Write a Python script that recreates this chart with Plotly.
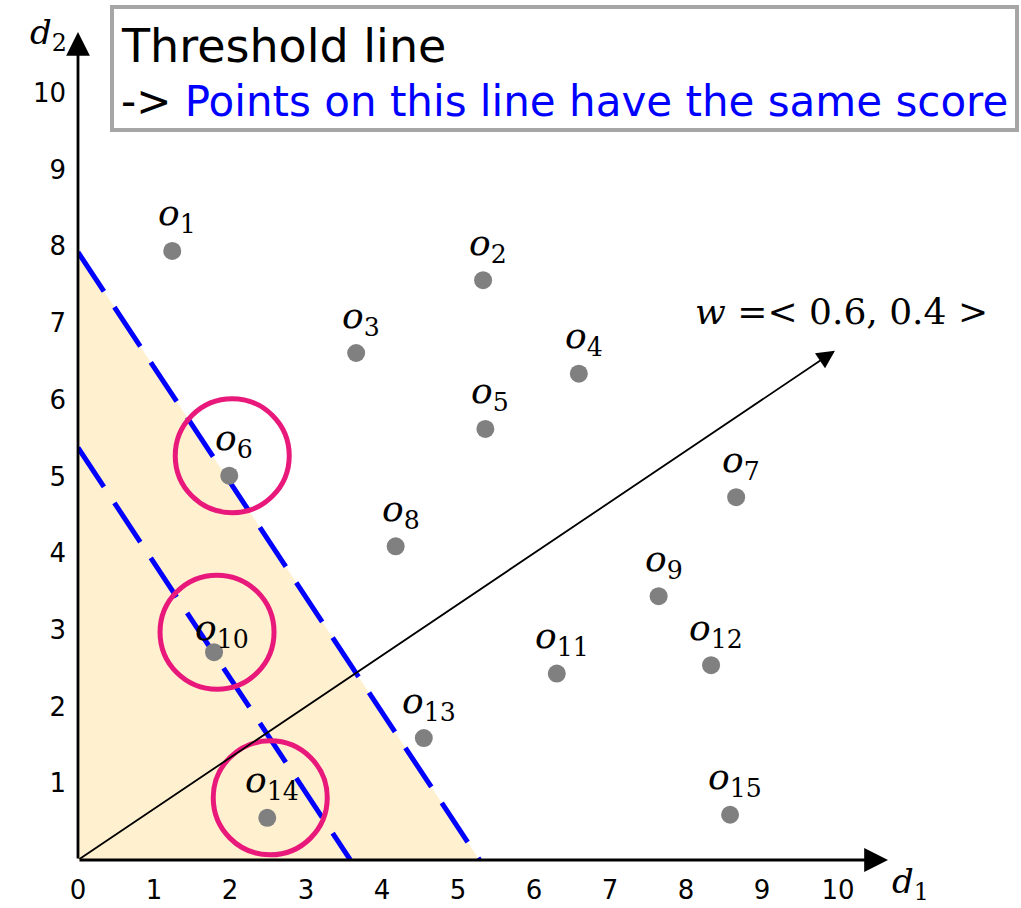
import plotly.graph_objects as go

# ---- data -------------------------------------------------------------
point_names = ["o1", "o2", "o3", "o4", "o5", "o6", "o7", "o8",
               "o9", "o10", "o11", "o12", "o13", "o14", "o15"]
d1_vals = [1.24, 5.33, 3.66, 6.59, 5.36, 1.99, 8.66, 4.18,
           7.64, 1.79, 6.30, 8.33, 4.55, 2.49, 8.58]
d2_vals = [7.94, 7.56, 6.61, 6.34, 5.62, 5.01, 4.73, 4.09,
           3.44, 2.71, 2.43, 2.54, 1.59, 0.55, 0.59]
weights = [0.6, 0.4]
threshold_scores = [3.17, 2.15]
highlighted = ["o6", "o10", "o14"]
x_ticks = list(range(0, 11))
y_ticks = list(range(1, 11))

# ---- geometry of the canvas ------------------------------------------
W, H = 1021, 908
ML, MR, MT, MB = 78, 133, 32, 48
X_MAX, Y_MAX = 10.658, 10.795
PW, PH = W - ML - MR, H - MT - MB


def px(xp):
    return (xp - ML) / PW


def py(yp):
    return (H - MB - yp) / PH


SERIF = "DejaVu Serif"
SANS = "DejaVu Sans"

fig = go.Figure()

# region below the outer threshold line
c_out = max(threshold_scores)
fig.add_trace(go.Scatter(
    x=[0, 0, c_out / weights[0], 0], y=[0, c_out / weights[1], 0, 0],
    mode="lines", fill="toself", fillcolor="#FFF0D0",
    line=dict(width=0), hoverinfo="skip", showlegend=False))

# threshold lines: points with equal weighted score
for c in threshold_scores:
    fig.add_trace(go.Scatter(
        x=[0, c / weights[0]], y=[c / weights[1], 0], mode="lines",
        line=dict(color="#0000FF", width=5, dash="47px,19px"),
        hoverinfo="skip", showlegend=False, cliponaxis=False))

# data points
fig.add_trace(go.Scatter(
    x=d1_vals, y=d2_vals, mode="markers",
    marker=dict(size=18, color="#808080"),
    hoverinfo="skip", showlegend=False, cliponaxis=False))

annotations = []
shapes = []

# point labels
label_shift = {"o10": (8, 22)}
for name, xv, yv in zip(point_names, d1_vals, d2_vals):
    sx, sy = label_shift.get(name, (5, 35))
    annotations.append(dict(
        x=xv, y=yv, xref="x", yref="y", showarrow=False,
        xanchor="center", yanchor="middle",
        text=f"<i>o</i><sub>{name[1:]}</sub>", xshift=sx, yshift=sy,
        font=dict(family=SERIF, size=36, color="black")))

# circles around the selected points
for name in highlighted:
    i = point_names.index(name)
    shapes.append(dict(
        type="circle", xref="x", yref="y",
        xsizemode="pixel", ysizemode="pixel",
        xanchor=d1_vals[i], yanchor=d2_vals[i],
        x0=-57 + 3, x1=57 + 3, y0=-57 + 20, y1=57 + 20,
        line=dict(color="#E8197B", width=5)))

# weight vector arrow
k = 16.6
annotations.append(dict(
    x=k * weights[0], y=k * weights[1], ax=0, ay=0,
    xref="x", yref="y", axref="x", ayref="y", text="",
    showarrow=True, arrowhead=2, arrowsize=2.0, arrowwidth=1.8,
    arrowcolor="black"))
annotations.append(dict(
    x=px(841), y=py(311), xref="paper", yref="paper", showarrow=False,
    xanchor="center", yanchor="middle",
    text=f"<i>w</i> =&lt; {weights[0]}, {weights[1]} &gt;",
    font=dict(family=SERIF, size=36, color="black")))

# axes with arrowheads
for tip in [(X_MAX, 0), (0, Y_MAX)]:
    annotations.append(dict(
        x=tip[0], y=tip[1], ax=0, ay=0, xref="x", yref="y",
        axref="x", ayref="y", text="", showarrow=True, arrowhead=2,
        arrowsize=1.7, arrowwidth=2.8, arrowcolor="black"))
annotations.append(dict(
    x=px(48), y=py(34), xref="paper", yref="paper", showarrow=False,
    xanchor="center", yanchor="middle",
    text="<i>d</i><sub>2</sub>", font=dict(family=SERIF, size=34, color="black")))
annotations.append(dict(
    x=px(910), y=py(884), xref="paper", yref="paper", showarrow=False,
    xanchor="center", yanchor="middle",
    text="<i>d</i><sub>1</sub>", font=dict(family=SERIF, size=34, color="black")))

# caption box
shapes.append(dict(
    type="rect", xref="paper", yref="paper",
    x0=px(112), x1=px(1017), y0=py(130), y1=py(7),
    line=dict(color="#A6A6A6", width=4), fillcolor="white", layer="above"))
annotations.append(dict(
    x=px(119), y=py(46), xref="paper", yref="paper", showarrow=False,
    xanchor="left", yanchor="middle", text="Threshold line",
    font=dict(family=SANS, size=46, color="black")))
annotations.append(dict(
    x=px(119), y=py(101), xref="paper", yref="paper", showarrow=False,
    xanchor="left", yanchor="middle",
    text="-&gt; <span style='color:#0000FF'>Points on this line have the same score</span>",
    font=dict(family=SANS, size=42, color="black")))

fig.update_layout(
    width=W, height=H, margin=dict(l=ML, r=MR, t=MT, b=MB),
    plot_bgcolor="white", paper_bgcolor="white",
    shapes=shapes, annotations=annotations,
    xaxis=dict(range=[0, X_MAX], tickvals=x_ticks, showgrid=False,
               zeroline=False, showline=False, ticks="", automargin=False,
               ticklabelstandoff=12,
               tickfont=dict(family=SANS, size=26, color="black")),
    yaxis=dict(range=[0, Y_MAX], tickvals=y_ticks, showgrid=False,
               zeroline=False, showline=False, ticks="", automargin=False,
               ticklabelstandoff=11,
               tickfont=dict(family=SANS, size=26, color="black")),
)

fig.write_html("out.html")
